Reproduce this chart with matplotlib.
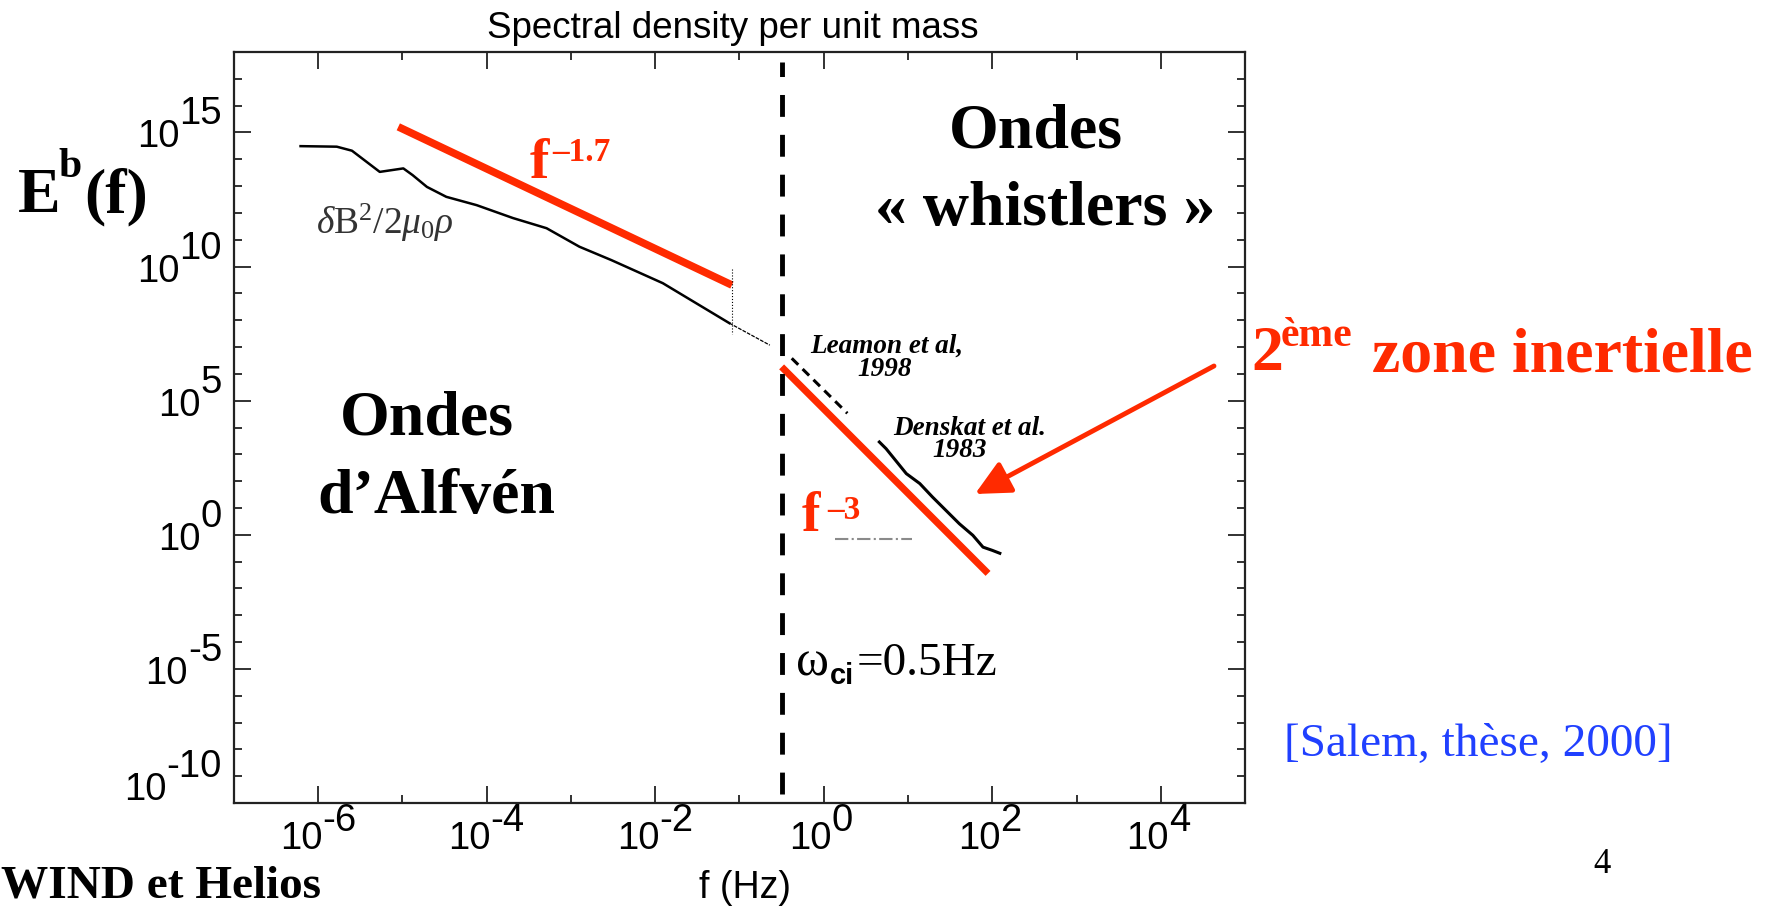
import numpy as np
import matplotlib
matplotlib.use("Agg")
import matplotlib.pyplot as plt
from matplotlib.ticker import FixedLocator, NullFormatter
from matplotlib.transforms import ScaledTranslation

plt.rcParams['font.family'] = 'Liberation Sans'
plt.rcParams['mathtext.fontset'] = 'custom'
plt.rcParams['mathtext.rm'] = 'Liberation Serif'
plt.rcParams['mathtext.it'] = 'Liberation Serif:italic'
plt.rcParams['mathtext.bf'] = 'Liberation Serif:bold'

# magnetic spectrum dB^2/2mu0 rho (log10 f, log10 E), picked off Salem 2000
spec_logf = [-6.21, -5.78, -5.60, -5.27, -4.99, -4.88, -4.71, -4.48, -4.12,
             -3.69, -3.29, -2.90, -2.52, -1.91, -1.12]
spec_logE = [14.49, 14.47, 14.32, 13.53, 13.66, 13.41, 12.97, 12.60, 12.29,
             11.81, 11.43, 10.74, 10.24, 9.38, 7.89]
# faint continuation up to the ion cyclotron frequency
tail_logf = [-1.12, -0.64]
tail_logE = [7.89, 7.07]

# Leamon et al. 1998 (dashed) and Denskat et al. 1983 high-frequency spectra
leamon_logf = [-0.38, 0.28]
leamon_logE = [6.58, 4.53]
denskat_logf = [0.66, 0.74, 0.82, 0.98, 1.14, 1.29, 1.45, 1.61, 1.77, 1.89, 2.00, 2.09]
denskat_logE = [3.46, 3.21, 2.90, 2.28, 1.91, 1.41, 0.91, 0.41, -0.02, -0.46, -0.58, -0.69]

# power-law guides: f^-1.7 (inertial range) and f^-3 (second inertial range)
fit1_logf = [-5.05, -1.09]
fit1_logE = [15.21, 9.31]
fit2_logf = [-0.50, 1.95]
fit2_logE = [6.26, -1.44]

f_ci_line = 10 ** -0.50   # position of the dashed cyclotron line

xtick_exps = [-6, -4, -2, 0, 2, 4]
ytick_exps = [-10, -5, 0, 5, 10, 15]

red = '#ff2a00'
blue = '#2040ff'

W, H = 1777, 907


def fx(px):
    return px / W


def fy(py):
    return 1 - py / H


fig = plt.figure(figsize=(W / 100, H / 100), dpi=100)
ax = fig.add_axes([fx(234), fy(803), (1245 - 234) / W, (803 - 52) / H])

ax.plot(10 ** np.array(spec_logf), 10 ** np.array(spec_logE), color='k', lw=1.8)
ax.plot(10 ** np.array(tail_logf), 10 ** np.array(tail_logE), color='k', lw=0.9, ls=(0, (3, 1)))
ax.plot(10 ** np.array(leamon_logf), 10 ** np.array(leamon_logE), color='k', lw=2.2, ls=(0, (3, 2)))
ax.plot(10 ** np.array(denskat_logf), 10 ** np.array(denskat_logE), color='k', lw=2.2)

ax.plot(10 ** np.array(fit1_logf), 10 ** np.array(fit1_logE), color=red, lw=5.5, solid_capstyle='butt')
ax.plot(10 ** np.array(fit2_logf), 10 ** np.array(fit2_logE), color=red, lw=5.0, solid_capstyle='butt')

# dotted marker from the end of the f^-1.7 guide down to the spectrum
ax.plot([10 ** -1.09, 10 ** -1.09], [10 ** 9.9, 10 ** 7.5], color='k', lw=0.8, ls=':')
# small dash-dot stroke under the f^-3 label
ax.plot([10 ** 0.13, 10 ** 1.05], [10 ** -0.15, 10 ** -0.15], color='#8a8a8a', lw=1.5, ls='-.')

ax.axvline(f_ci_line, ymin=0.012, ymax=0.987, color='k', lw=3.5, ls=(0, (4.5, 3.7)))

ax.set_xscale('log')
ax.set_yscale('log')
ax.set_xlim(1e-7, 1e5)
ax.set_ylim(1e-10, 1e18)

ax.xaxis.set_major_locator(FixedLocator(10.0 ** np.array(xtick_exps)))
ax.xaxis.set_minor_locator(FixedLocator(10.0 ** np.arange(-7, 6, 1)))
ax.yaxis.set_major_locator(FixedLocator(10.0 ** np.array(ytick_exps)))
ax.yaxis.set_minor_locator(FixedLocator(10.0 ** np.arange(-10, 19, 1)))
for axis in (ax.xaxis, ax.yaxis):
    axis.set_major_formatter(NullFormatter())
    axis.set_minor_formatter(NullFormatter())

ax.tick_params(which='both', direction='in', top=True, right=True, width=1.3, color='#222222')
ax.tick_params(which='major', length=12)
ax.tick_params(which='minor', length=6)
for s in ax.spines.values():
    s.set_linewidth(1.6)
    s.set_color('#222222')

# "10" with a full-size exponent, as on the original IDL axes
tick_fs = 27.5
px = fig.dpi_scale_trans


def offset(dx, dy):
    return ScaledTranslation(dx / 100, dy / 100, px)


for e in ytick_exps:
    lift = 18 if e == ytick_exps[0] else 0
    sup = ax.text(0, 10.0 ** e, str(e), fontsize=tick_fs, ha='right', va='baseline',
                  transform=ax.get_yaxis_transform() + offset(-12, 8 + lift))
    ax.annotate('10', xy=(0, 0), xycoords=sup, xytext=(0, -23), textcoords='offset pixels',
                fontsize=tick_fs, ha='right', va='bottom')

for e in xtick_exps:
    shift = 4 if e < 0 else 8
    base = ax.text(10.0 ** e, 0, '10', fontsize=tick_fs, ha='right', va='baseline',
                   transform=ax.get_xaxis_transform() + offset(shift, -46))
    ax.annotate(str(e), xy=(1, 0), xycoords=base, xytext=(0, 18), textcoords='offset pixels',
                fontsize=tick_fs, ha='left', va='bottom')

fig.text(fx(745), fy(898), 'f (Hz)', fontsize=27, ha='center', va='baseline')
fig.text(fx(733), fy(38), 'Spectral density per unit mass', fontsize=26.5, ha='center', va='baseline')

ax.text(10 ** -6.03, 10 ** 11.2, r'$\delta\mathrm{B}^2/2\mu_0\rho$', fontsize=27, color='#333333',
        ha='left', va='baseline')

serif_b = dict(family='Liberation Serif', weight='bold')

# E^b(f)
fig.text(fx(18), fy(212), 'E', fontsize=46, va='baseline', **serif_b)
fig.text(fx(58), fy(177), 'b', fontsize=30, va='baseline', **serif_b)
fig.text(fx(84), fy(212), '(f)', fontsize=46, va='baseline', **serif_b)

# power-law labels
fig.text(fx(530), fy(178), 'f', fontsize=42, color=red, va='baseline', **serif_b)
fig.text(fx(552), fy(161), '\u20131.7', fontsize=24, color=red, va='baseline', **serif_b)
fig.text(fx(802), fy(531), 'f', fontsize=40, color=red, va='baseline', **serif_b)
fig.text(fx(827), fy(519), '\u20133', fontsize=24, color=red, va='baseline', **serif_b)

# wave regimes
fig.text(fx(1036), fy(148), 'Ondes', fontsize=46, ha='center', va='baseline', **serif_b)
fig.text(fx(1045), fy(225), '\u00ab whistlers \u00bb', fontsize=46, ha='center', va='baseline', **serif_b)
fig.text(fx(427), fy(435), 'Ondes', fontsize=46, ha='center', va='baseline', **serif_b)
fig.text(fx(436), fy(513), 'd\u2019Alfv\u00e9n', fontsize=46, ha='center', va='baseline', **serif_b)

# second inertial range
fig.text(fx(1251), fy(370), '2', fontsize=46, color=red, va='baseline', **serif_b)
fig.text(fx(1281), fy(346), '\u00e8me', fontsize=30, color=red, va='baseline', **serif_b)
fig.text(fx(1372), fy(371), 'zone inertielle', fontsize=46, color=red, va='baseline', **serif_b)
ax.annotate('', xy=(fx(975), fy(494)), xycoords='figure fraction',
            xytext=(fx(1214), fy(366)), textcoords='figure fraction',
            arrowprops=dict(arrowstyle='-|>,head_length=0.53,head_width=0.26', color=red,
                            lw=3.5, mutation_scale=40, shrinkA=0, shrinkB=0),
            annotation_clip=False)

# references on the spectra
serif_bi = dict(family='Liberation Serif', weight='bold', style='italic')
fig.text(fx(810), fy(353), 'Leamon et al,', fontsize=19.5, va='baseline', **serif_bi)
fig.text(fx(885), fy(376), '1998', fontsize=19.5, ha='center', va='baseline', **serif_bi)
fig.text(fx(893), fy(435), 'Denskat et al.', fontsize=19.5, va='baseline', **serif_bi)
fig.text(fx(960), fy(457), '1983', fontsize=19.5, ha='center', va='baseline', **serif_bi)

# ion cyclotron frequency
fig.text(fx(796), fy(675), '\u03c9', fontsize=36, family='Liberation Serif', va='baseline')
fig.text(fx(830), fy(684), 'ci', fontsize=21, family='Liberation Sans', weight='bold', va='baseline')
fig.text(fx(857), fy(675), '=0.5Hz', fontsize=34, family='Liberation Serif', va='baseline')

fig.text(fx(1284), fy(756), '[Salem, th\u00e8se, 2000]', fontsize=34, color=blue,
         family='Liberation Serif', va='baseline')
fig.text(fx(1593), fy(873), '4', fontsize=25, family='Liberation Serif', va='baseline')
fig.text(fx(1), fy(907), 'WIND et Helios', fontsize=34, va='bottom', **serif_b)

fig.savefig('out.png', dpi=100)
